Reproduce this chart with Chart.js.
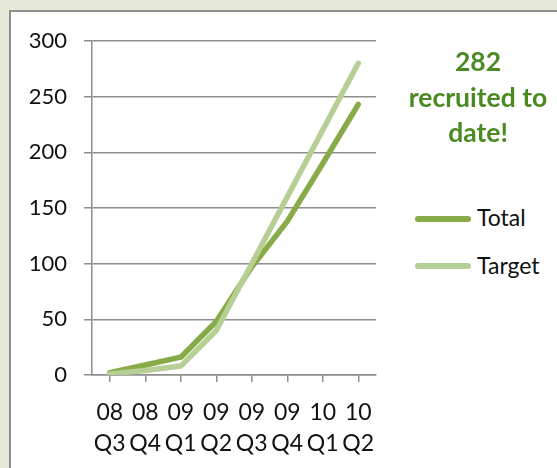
<!DOCTYPE html>
<html>
<head>
<meta charset="utf-8">
<script src="https://cdn.jsdelivr.net/npm/chart.js@4.4.1/dist/chart.umd.min.js"></script>
<style>
  html, body { margin: 0; padding: 0; }
  body { width: 557px; height: 468px; background: #e6e9d7; position: relative; overflow: hidden; font-family: Lato, sans-serif; }
  .panel { position: absolute; left: 9px; top: 10px; width: 560px; height: 470px; background: #fff; border: 2px solid #8e8e8e; box-sizing: border-box; }
  #chart { position: absolute; left: 0; top: 0; }
  .note { position: absolute; left: 398px; top: 44px; width: 160px; text-align: center; color: #4b8a22; font-weight: bold; font-size: 26.5px; line-height: 35.5px; }
  .key { position: absolute; left: 415px; width: 56px; height: 6px; border-radius: 3px; }
  .key-label { position: absolute; left: 477px; font-size: 23px; line-height: 30px; color: #111; }
</style>
</head>
<body>
<div class="panel"></div>
<canvas id="chart" width="400" height="468"></canvas>
<div class="note">282<br>recruited to<br>date!</div>
<div class="key" style="top:216px;background:#89aa48"></div>
<div class="key-label" style="top:202px">Total</div>
<div class="key" style="top:263px;background:#b6cf94"></div>
<div class="key-label" style="top:250px">Target</div>
<script>
const quarters = [['08', 'Q3'], ['08', 'Q4'], ['09', 'Q1'], ['09', 'Q2'], ['09', 'Q3'], ['09', 'Q4'], ['10', 'Q1'], ['10', 'Q2']];
const totalRecruited = [2, 9, 16, 48, 97, 138, 190, 243];
const targetRecruited = [1, 4, 8, 40, 100, 160, 220, 280];
const yTicks = [0, 50, 100, 150, 200, 250, 300];

const gridGray = '#8e8e8e';
const tickFont = { family: 'Lato', size: 22 };

const ctx = document.getElementById('chart').getContext('2d');
new Chart(ctx, {
  type: 'line',
  data: {
    labels: quarters,
    datasets: [
      {
        label: 'Total',
        data: totalRecruited,
        borderColor: '#89aa48',
        borderWidth: 5.5,
        borderCapStyle: 'round',
        borderJoinStyle: 'round',
        pointRadius: 0,
        tension: 0,
        order: 1
      },
      {
        label: 'Target',
        data: targetRecruited,
        borderColor: '#b6cf94',
        borderWidth: 5.5,
        borderCapStyle: 'round',
        borderJoinStyle: 'round',
        pointRadius: 0,
        tension: 0,
        order: 0
      }
    ]
  },
  options: {
    responsive: false,
    animation: false,
    devicePixelRatio: 1,
    layout: { padding: { top: 41, right: 24, bottom: 0, left: 0 } },
    plugins: {
      legend: { display: false },
      tooltip: { enabled: false }
    },
    scales: {
      x: {
        offset: true,
        grid: { drawOnChartArea: false, drawTicks: true, tickLength: 7, color: gridGray, lineWidth: 1.5 },
        border: { color: gridGray, width: 1.5 },
        ticks: { color: '#111', font: { family: 'Lato', size: 23, lineHeight: 1.35 }, autoSkip: false, maxRotation: 0, padding: 15 },
        afterFit: s => { s.height = 93; }
      },
      y: {
        min: 0,
        max: 300,
        afterBuildTicks: s => { s.ticks = yTicks.map(v => ({ value: v })); },
        grid: { color: gridGray, lineWidth: 1.5, tickLength: 8 },
        border: { color: gridGray, width: 1.5 },
        ticks: { color: '#111', font: tickFont, padding: 17 },
        afterFit: s => { s.width = 92; }
      }
    }
  }
});
</script>
</body>
</html>
